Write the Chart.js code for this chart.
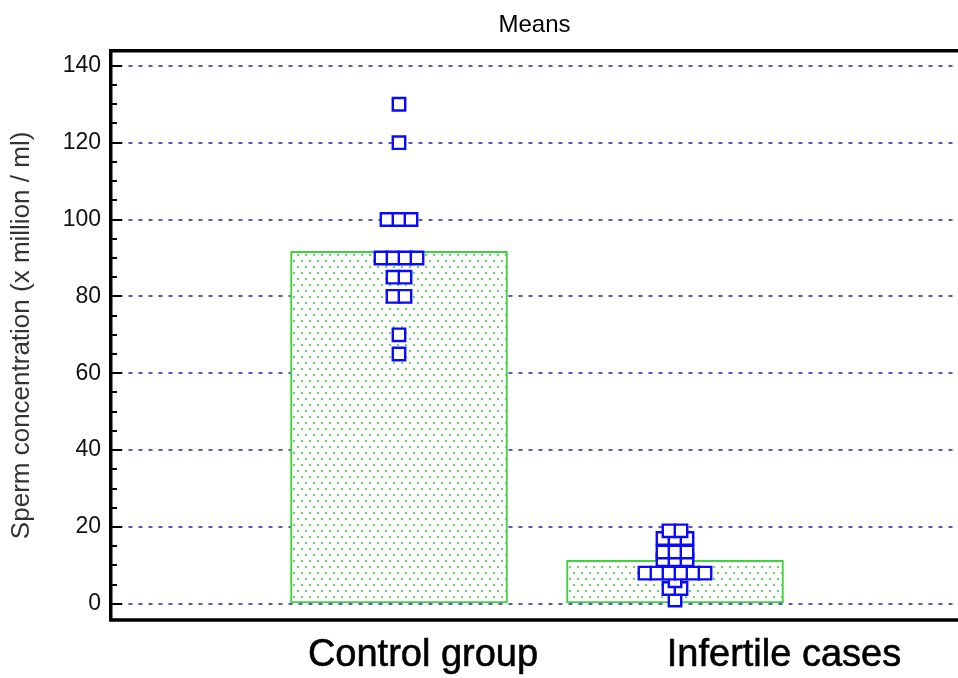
<!DOCTYPE html>
<html>
<head>
<meta charset="utf-8">
<script src="https://cdn.jsdelivr.net/npm/chart.js@4/dist/chart.umd.min.js"></script>
<style>
  html, body { margin: 0; padding: 0; background: #fff; }
  #wrap { width: 958px; height: 678px; }
</style>
</head>
<body>
<div id="wrap"><canvas id="c" width="958" height="678"></canvas></div>
<script>
// Groups and their mean sperm concentration (bar heights)
const groups = ['Control group', 'Infertile cases'];
const groupMeans = [91.7, 11.3];

// Individual observations per group (x million / ml), ascending
const controlValues = [65, 70, 80, 80, 85, 85, 90, 90, 90, 90, 100, 100, 100, 120, 130];
const infertileValues = [1, 4, 4, 6, 8, 8, 8, 8, 8, 8, 11.5, 11.5, 11.5, 13.5, 13.5, 13.5, 17, 17, 17, 19, 19];

// Labelled values on the concentration axis
const yTicks = [0, 20, 40, 60, 80, 100, 120, 140];

const FONT = "'Liberation Sans', Arial, Helvetica, sans-serif";
const BOX_STEP = 0.0435;   // horizontal spacing of tied observations, in x units

// Spread tied values side by side, centred on the group position
function dotPoints(values, pos) {
  const counts = {};
  values.forEach(v => { counts[v] = (counts[v] || 0) + 1; });
  const seen = {};
  return values.map(v => {
    const k = seen[v] || 0;
    seen[v] = k + 1;
    return { x: pos + (k - (counts[v] - 1) / 2) * BOX_STEP, y: v };
  });
}

// Bar fill: white with a staggered green dot raster
function dotPattern() {
  const t = document.createElement('canvas');
  t.width = 8; t.height = 12;
  const g = t.getContext('2d');
  g.fillStyle = '#ffffff';
  g.fillRect(0, 0, 8, 12);
  g.fillStyle = '#66d666';
  g.fillRect(1, 2, 2, 2);
  g.fillRect(5, 8, 2, 2);
  return g.createPattern(t, 'repeat');
}

// Frame, inward tick marks and category captions
const decor = {
  id: 'decor',
  afterDraw(chart) {
    const { ctx, chartArea: a } = chart;
    const ys = chart.scales.y, xs = chart.scales.x;
    ctx.save();
    ctx.strokeStyle = '#000';
    ctx.lineWidth = 3.5;
    ctx.beginPath();
    ctx.moveTo(a.left - 1.75, a.top); ctx.lineTo(a.right, a.top);
    ctx.moveTo(a.left - 1.75, a.bottom); ctx.lineTo(a.right, a.bottom);
    ctx.stroke();

    ctx.lineWidth = 2;
    ctx.beginPath();
    for (let v = 0; v <= 140; v += 5) {
      const py = Math.round(ys.getPixelForValue(v));
      const len = v % 20 === 0 ? 11 : 6;
      ctx.moveTo(a.left, py); ctx.lineTo(a.left + len, py);
    }
    ctx.stroke();

    const shift = chart.options.plugins.decor.labelShift;
    ctx.fillStyle = '#000';
    ctx.strokeStyle = '#000';
    ctx.lineWidth = 0.6;
    ctx.font = '38px ' + FONT;
    ctx.textAlign = 'center';
    ctx.textBaseline = 'middle';
    groups.forEach((name, i) => {
      const px = xs.getPixelForValue(i + 1) + shift[i];
      ctx.fillText(name, px, a.bottom + 36);
      ctx.strokeText(name, px, a.bottom + 36);
    });
    ctx.restore();
  }
};

new Chart(document.getElementById('c'), {
  type: 'bar',
  data: {
    datasets: [
      {
        type: 'scatter',
        order: 1,
        data: dotPoints(controlValues, 1).concat(dotPoints(infertileValues, 2)),
        pointStyle: 'rect',
        pointRadius: 8.8,
        pointHoverRadius: 8.8,
        borderColor: '#0a0aff',
        backgroundColor: '#ffffff',
        borderWidth: 2.4
      },
      {
        type: 'bar',
        order: 2,
        data: groupMeans.map((m, i) => ({ x: i + 1, y: m })),
        backgroundColor: dotPattern(),
        borderColor: '#3fd23f',
        borderWidth: 2,
        borderSkipped: false,
        barThickness: 217
      }
    ]
  },
  plugins: [decor],
  options: {
    responsive: false,
    animation: false,
    events: [],
    devicePixelRatio: 1,
    layout: { autoPadding: false, padding: { left: 0, right: 0, top: 0, bottom: 58 } },
    plugins: {
      legend: { display: false },
      tooltip: { enabled: false },
      title: {
        display: true,
        text: 'Means',
        fullSize: false,
        color: '#000',
        font: { family: FONT, size: 24, weight: 'normal', lineHeight: 1.2 },
        padding: { top: 11, bottom: 11 }
      },
      decor: { labelShift: [24, 109] }
    },
    scales: {
      x: {
        type: 'linear',
        display: false,
        offset: false,
        min: -0.0435,
        max: 3.0254
      },
      y: {
        type: 'linear',
        min: -4.2,
        max: 143.9,
        afterBuildTicks: s => { s.ticks = yTicks.map(v => ({ value: v })); },
        afterFit: s => { s.width = 111; },
        grid: {
          drawTicks: false,
          color: '#5b5bb6',
          lineWidth: 2
        },
        border: {
          display: true,
          color: '#000',
          width: 3.5,
          dash: [4, 6],
          dashOffset: 4
        },
        ticks: {
          padding: 10,
          color: '#111',
          font: { family: FONT, size: 23 }
        },
        title: {
          display: true,
          text: 'Sperm concentration (x million / ml)',
          color: '#333',
          font: { family: FONT, size: 26 },
          padding: { top: 6, bottom: 0 }
        }
      }
    }
  }
});
</script>
</body>
</html>
